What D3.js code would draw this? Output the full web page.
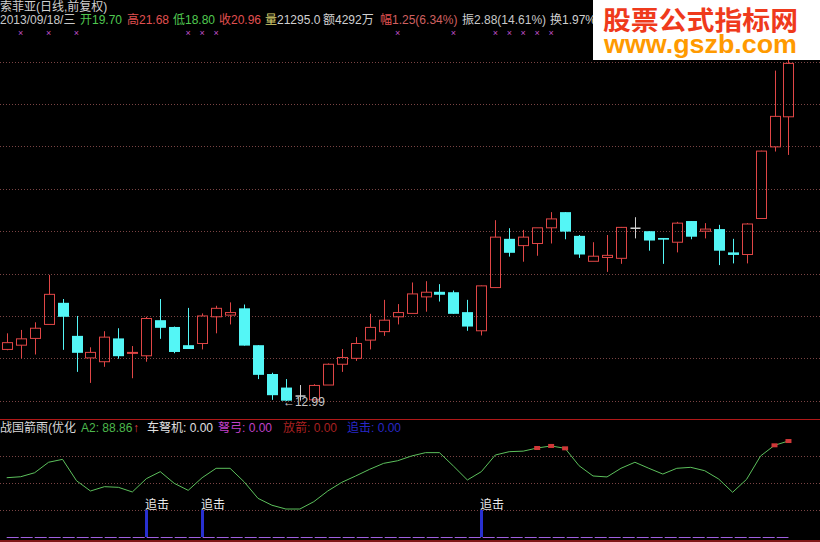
<!DOCTYPE html>
<html><head><meta charset="utf-8">
<script src="https://cdn.jsdelivr.net/npm/d3@7/dist/d3.min.js"></script>
<style>html,body{margin:0;padding:0;background:#000;}svg{display:block;}</style>
</head><body>
<svg id="c" width="820" height="542"></svg>
<script>
// ---------- data ----------
const opens  = [14.21,14.31,14.47,14.80,15.31,14.53,14.01,13.92,14.47,14.13,14.06,14.90,14.74,14.31,14.35,14.98,15.02,15.18,14.31,13.63,13.31,13.11,13.02,13.37,13.86,14.00,14.43,14.63,14.98,15.06,15.45,15.57,15.56,15.09,14.65,15.67,16.82,16.66,16.71,17.08,17.45,16.89,16.29,16.38,16.36,17.07,17.00,16.84,16.74,17.24,17.00,17.05,16.50,16.45,17.30,18.99,19.70];
const closes = [14.37,14.46,14.71,15.51,14.98,14.13,14.14,14.50,14.05,14.14,14.94,14.72,14.15,14.22,15.00,15.18,15.08,14.30,13.61,13.13,13.00,13.11,13.36,13.86,14.02,14.35,14.73,14.90,15.08,15.52,15.56,15.50,15.05,14.75,15.71,16.86,16.49,16.86,17.08,17.29,16.99,16.45,16.41,16.43,17.09,17.07,16.78,16.80,17.19,16.87,17.05,16.54,16.44,17.17,18.89,19.71,20.96];
const highs  = [14.59,14.67,14.85,15.97,15.40,15.00,14.26,14.64,14.71,14.29,14.98,15.40,14.75,15.19,15.06,15.24,15.32,15.27,14.31,13.66,13.51,13.37,13.39,13.88,14.22,14.50,15.05,15.38,15.28,15.79,15.82,15.75,15.60,15.38,15.72,17.26,17.07,17.03,17.08,17.45,17.45,16.91,16.74,16.91,17.10,17.33,17.00,16.84,17.22,17.24,17.19,17.15,16.82,17.19,18.90,20.79,21.68];
const lows   = [14.19,14.00,14.09,14.80,14.20,13.68,13.42,13.80,13.99,13.53,13.92,14.46,14.12,14.22,14.21,14.59,14.80,14.30,13.51,13.02,12.99,13.00,13.02,13.37,13.68,13.94,14.21,14.53,14.80,15.06,15.10,15.34,15.05,14.65,14.54,15.66,16.40,16.28,16.42,16.71,16.81,16.37,16.29,16.04,16.23,16.83,16.54,16.23,16.50,16.81,16.83,16.20,16.24,16.24,17.29,18.88,18.80];
const a2     = [54.9,55.8,59.5,69.2,71.9,52.1,42.6,46.6,46.0,41.7,54.0,60.5,49.7,43.2,54.9,63.6,63.6,51.2,35.8,29.4,25.9,25.9,32.7,42.6,50.6,56.5,62.7,68.2,70.6,75.0,78.1,78.1,65.7,52.8,60.5,75.9,79.0,79.5,82.4,84.3,82.1,66.0,56.5,55.6,63.6,69.2,63.6,58.3,63.6,64.5,61.4,53.7,41.4,53.4,75.0,84.9,88.86];
const crossMarks = [1,3,5,13,14,15,28,32,35,36,37,38,39];   // magenta × signals (bar index)
const zhuiji = [10,14,34];                                   // 追击 signal bars (bar index)
const zhuijiLevel = 25;
const a2High = 80;
const priceGrid = [13,14,15,16,17,18,19,20,21];
const lowerGrid = [25,50,75];
const stockName = "索菲亚(日线,前复权)";
const dateText = "2013/09/18/三";
const volume = "21295.0", amount = "4292万", change = "1.25(6.34%)", amplitude = "2.88(14.61%)", turnover = "1.97%";

// ---------- setup ----------
const W = 820, H = 542;
const svg = d3.select("#c");
svg.append("rect").attr("width", W).attr("height", H).attr("fill", "#000");
const FONT = "'Liberation Sans','Noto Sans CJK SC',sans-serif";
const n = closes.length;
const idx = d3.range(n);
const x = d3.scaleBand().domain(idx).range([-0.28, -0.28 + 13.96 * n]).paddingInner(0.25).paddingOuter(0.125);
const cx = i => x(i) + x.bandwidth() / 2;
const y = d3.scaleLinear().domain([13, 21]).range([400.7, 61.7]);
const y2 = d3.scaleLinear().domain([0, 75]).range([537, 456]);

const UP = "#e04646", DOWN = "#54f6f6", FLAT = "#d0d0d0", GRID = "#7a4444";

// grid lines
const g = svg.append("g");
g.selectAll("line.pg").data(priceGrid).join("line")
  .attr("x1", 0).attr("x2", W)
  .attr("y1", d => Math.round(y(d)) + 0.5).attr("y2", d => Math.round(y(d)) + 0.5)
  .attr("stroke", GRID).attr("stroke-dasharray", "1,2");
g.selectAll("line.lg").data(lowerGrid).join("line")
  .attr("x1", 0).attr("x2", W)
  .attr("y1", d => Math.round(y2(d)) + 0.5).attr("y2", d => Math.round(y2(d)) + 0.5)
  .attr("stroke", GRID).attr("stroke-dasharray", "1,2");

// candles
const cg = svg.append("g");
idx.forEach(i => {
  const o = opens[i], c = closes[i], h = highs[i], l = lows[i];
  const col = c > o ? UP : (c < o ? DOWN : FLAT);
  const xc = Math.round(cx(i)) + 0.5;
  const top = Math.min(y(o), y(c)), bot = Math.max(y(o), y(c));
  const bw = 10;
  if (c > o) {
    cg.append("line").attr("x1", xc).attr("x2", xc).attr("y1", y(h)).attr("y2", top).attr("stroke", col);
    cg.append("line").attr("x1", xc).attr("x2", xc).attr("y1", bot).attr("y2", y(l)).attr("stroke", col);
    cg.append("rect").attr("x", xc - bw / 2).attr("y", top).attr("width", bw).attr("height", Math.max(bot - top, 1))
      .attr("fill", "none").attr("stroke", col);
  } else {
    cg.append("line").attr("x1", xc).attr("x2", xc).attr("y1", y(h)).attr("y2", y(l)).attr("stroke", col);
    if (bot - top < 1.5) {
      cg.append("line").attr("x1", xc - bw / 2).attr("x2", xc + bw / 2).attr("y1", top).attr("y2", top).attr("stroke", col).attr("stroke-width", 1.5);
    } else {
      cg.append("rect").attr("x", xc - bw / 2 - 0.5).attr("y", top).attr("width", bw + 1).attr("height", bot - top).attr("fill", col);
    }
  }
});

// lowest price label
const lowI = d3.minIndex(lows);
svg.append("text").attr("x", cx(lowI) - 3).attr("y", y(lows[lowI]) + 4.5)
  .attr("font-family", FONT).attr("font-size", 12).attr("fill", "#c8c8c8")
  .text("←" + d3.format(".2f")(lows[lowI]));

// magenta cross marks
svg.append("g").selectAll("text").data(crossMarks).join("text")
  .attr("x", d => cx(d)).attr("y", 36).attr("text-anchor", "middle")
  .attr("font-family", FONT).attr("font-size", 9).attr("fill", "#c050c8").text("×");

// separator
svg.append("line").attr("x1", 0).attr("x2", W).attr("y1", 419.5).attr("y2", 419.5).attr("stroke", "#b01818");

// header
const hdr = svg.append("g").attr("font-family", FONT).attr("font-size", 12);
hdr.append("text").attr("x", 0).attr("y", 11).attr("fill", "#d0d0d0").text(stockName);
const last = n - 1, f2 = d3.format(".2f");
const row = [
  {x: 0, parts: [[dateText, "#c8c8c8"]]},
  {x: 80, parts: [["开", "#50c850"], [f2(opens[last]), "#50c850"]]},
  {x: 127, parts: [["高", "#e05050"], [f2(highs[last]), "#e05050"]]},
  {x: 173, parts: [["低", "#50c850"], [f2(lows[last]), "#50c850"]]},
  {x: 219, parts: [["收", "#e05050"], [f2(closes[last]), "#e05050"]]},
  {x: 265, parts: [["量", "#d8d070"], [volume, "#d0d0d0"]]},
  {x: 323, parts: [["额", "#d0d0d0"], [amount, "#d0d0d0"]]},
  {x: 380, parts: [["幅", "#e05050"], [change, "#d06060"]]},
  {x: 462, parts: [["振", "#d0d0d0"], [amplitude, "#c8c8c8"]]},
  {x: 550, parts: [["换", "#d0d0d0"], [turnover, "#d0d0d0"]]}
];
row.forEach(r => {
  const t = hdr.append("text").attr("x", r.x).attr("y", 24);
  r.parts.forEach(p => t.append("tspan").attr("fill", p[1]).text(p[0]));
});

// lower panel title
const lt = svg.append("g").attr("font-family", FONT).attr("font-size", 12);
const lastA2 = a2[last];
[
  {x: 0, t: "战国箭雨(优化", c: "#d8d8d8"},
  {x: 81, t: "A2: " + f2(lastA2), c: "#4cb84c"},
  {x: 133, t: "↑", c: "#e04040"},
  {x: 147, t: "车弩机: 0.00", c: "#e0e0e0"},
  {x: 218, t: "弩弓: 0.00", c: "#c040c8"},
  {x: 283, t: "放箭: 0.00", c: "#a82020"},
  {x: 347, t: "追击: 0.00", c: "#2828c8"}
].forEach(d => lt.append("text").attr("x", d.x).attr("y", 432).attr("fill", d.c).text(d.t));

// A2 line
svg.append("path").datum(idx)
  .attr("d", d3.line().x(i => cx(i)).y(i => y2(a2[i])))
  .attr("fill", "none").attr("stroke", "#5cc05c").attr("stroke-width", 1);
svg.append("g").selectAll("rect").data(idx.filter(i => a2[i] > a2High)).join("rect")
  .attr("x", i => cx(i) - 3).attr("y", i => y2(a2[i]) - 2).attr("width", 6).attr("height", 4)
  .attr("fill", "#d03838");

// 追击 bars
svg.append("g").selectAll("rect").data(zhuiji).join("rect")
  .attr("x", i => Math.round(cx(i)) - 1).attr("y", y2(zhuijiLevel)).attr("width", 3)
  .attr("height", y2(0) - y2(zhuijiLevel)).attr("fill", "#2830d0");
svg.append("g").selectAll("text").data(zhuiji).join("text")
  .attr("x", i => Math.round(cx(i)) - 1).attr("y", y2(zhuijiLevel) - 1)
  .attr("font-family", FONT).attr("font-size", 12).attr("fill", "#e8e8e8").text("追击");

// zero lines
svg.append("line").attr("x1", cx(0)).attr("x2", cx(last)).attr("y1", 537.5).attr("y2", 537.5)
  .attr("stroke", "#a060e0").attr("stroke-dasharray", "12,2");
svg.append("line").attr("x1", 0).attr("x2", W).attr("y1", 541).attr("y2", 541)
  .attr("stroke", "#801818").attr("stroke-width", 2);

// watermark
const wm = svg.append("g");
wm.append("rect").attr("x", 593).attr("y", 0).attr("width", 227).attr("height", 60).attr("fill", "#fff");
wm.append("text").attr("x", 603).attr("y", 30).attr("font-family", "'Noto Sans CJK SC',sans-serif")
  .attr("font-weight", "bold").attr("font-size", 26).attr("fill", "#ef3a1c")
  .attr("textLength", 195).attr("lengthAdjust", "spacingAndGlyphs").text("股票公式指标网");
wm.append("text").attr("x", 604).attr("y", 53).attr("font-family", "'Liberation Sans',sans-serif")
  .attr("font-weight", "bold").attr("font-size", 26).attr("fill", "#ff9a00")
  .attr("textLength", 193).attr("lengthAdjust", "spacingAndGlyphs").text("www.gszb.com");
</script>
</body></html>
